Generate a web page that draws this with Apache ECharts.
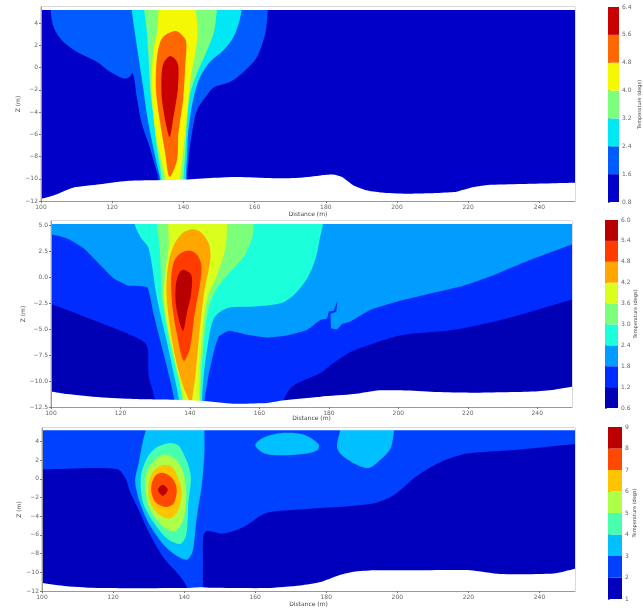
<!DOCTYPE html>
<html><head><meta charset="utf-8">
<style>html,body{margin:0;padding:0;background:#fff}#c{width:643px;height:608px;filter:blur(0.45px)}</style>
<script src="https://cdn.jsdelivr.net/npm/echarts@6/dist/echarts.min.js"></script>
</head><body><div id="c"></div>
<script>
const xTicks=[100,120,140,160,180,200,220,240];
const zTicks1=[-12,-10,-8,-6,-4,-2,0,2,4];
const zTicks2=[-12.5,-10,-7.5,-5,-2.5,0,2.5,5];
const zTicks3=[-12,-10,-8,-6,-4,-2,0,2,4];
const levels1=[0.8,1.6,2.4,3.2,4.0,4.8,5.6,6.4];
const levels2=[0.6,1.2,1.8,2.4,3.0,3.6,4.2,4.8,5.4,6.0];
const levels3=[1,2,3,4,5,6,7,8,9];
const colors1=['#0000c8','#005cff','#00e8f4','#7cff7a','#f4f802','#ff6800','#c80000'];
const colors2=['#0000b4','#002cff','#009cff','#1cffdb','#7cff7a','#dbff1c','#ffa700','#ff3b00','#b80000'];
const colors3=['#0000bc','#0040ff','#00c0ff','#48ffae','#aeff48','#ffc400','#ff4800','#bc0000'];

// Seabed profiles (distance, z)
const seabed1=[[98,-11.85],[100,-11.8],[103.5,-11.5],[109,-10.8],[116.6,-10.5],[124,-10.2],[139,-10.1],[154,-9.85],[166,-9.96],[173,-9.9],[178.5,-9.7],[182.3,-9.63],[184.6,-9.85],[187.8,-10.6],[191.7,-11.05],[196.3,-11.25],[203.8,-11.35],[216,-11.2],[220.7,-10.8],[225.4,-10.56],[234.8,-10.47],[250,-10.35],[252,-10.35]];
const seabed2=[[98,-10.95],[100,-11],[104.6,-11.25],[114.2,-11.57],[123.8,-11.73],[135.4,-11.8],[143,-11.9],[152.6,-12.18],[162.2,-12.12],[167,-11.86],[177.6,-11.5],[187.2,-11.25],[193.9,-10.9],[202.6,-10.9],[211.2,-11.06],[220.8,-11.12],[239,-11],[244.8,-10.83],[250.3,-10.54],[252,-10.5]];
const seabed3=[[98,-11.1],[100,-11.15],[106.9,-11.49],[116.3,-11.69],[139.8,-11.69],[144.5,-11.59],[148.3,-11.66],[163.3,-11.69],[172.7,-11.42],[178.3,-11.05],[183,-10.39],[187.7,-9.95],[193.3,-9.78],[206.5,-9.78],[220.5,-9.78],[229,-10.19],[244,-10.12],[250.1,-9.6],[252,-9.5]];
const dataTop1=5.17, dataTop2=5.17, dataTop3=5.2;

// Panel 1 filled contours (distance, z), lower bound of band
const a1_16=[[102.7,6],[102.7,5.17],[103.5,3.67],[105.8,2.47],[110,1.42],[115.7,.52],[119.4,-.38],[123.2,-.98],[124.6,-.9],[125.8,-.53],[126.9,-2.64],[128.3,-5.04],[130.2,-6.84],[132.1,-8.94],[133,-10.08],[133,-13],[141,-13],[141,-10.08],[141.4,-8.34],[142.4,-5.94],[143.8,-3.84],[146.6,-2.49],[148.5,-1.8],[153.2,-1.29],[156.9,-.38],[160.7,.97],[163,3.07],[163.7,5.17],[163.7,6]];
const a1_24=[[125.5,6],[125.5,5.17],[126.4,3.07],[127.8,.07],[128.8,-2.04],[129.7,-4.14],[131.1,-6.54],[132.7,-8.94],[133.5,-10.08],[133.5,-13],[140.7,-13],[140.7,-10.08],[141,-8.04],[141.4,-5.64],[142.9,-2.64],[144.7,-.83],[147.5,.52],[151.3,1.57],[154.1,2.77],[156,4.57],[156,6]];
const a1_32=[[129,6],[129,5.17],[129.7,3.37],[130.2,.97],[130.7,-2.04],[131.6,-4.44],[132.5,-7.14],[133.9,-10.08],[133.9,-13],[140,-13],[140,-10.08],[140.5,-7.74],[141,-5.04],[141.9,-2.34],[143.8,-.53],[146.1,1.12],[148.5,3.07],[149.4,5.17],[149.4,6]];
const a1_40=[[133,6],[133,5.17],[132.7,3.37],[131.6,1.57],[131.1,-.5],[131.2,-2.94],[132.2,-5.94],[133.3,-7.74],[134.9,-10.08],[134.9,-13],[139.1,-13],[139.1,-10.08],[139.6,-8.34],[140.5,-5.94],[141.4,-2.94],[142.1,-.83],[143.3,1.27],[144,3.07],[143.5,5.17],[143.5,6]];
const a1_48=[[137.9,3.28],[134.9,2.92],[133.5,2.32],[132.5,.67],[132.3,-2.04],[133.5,-5.04],[134.9,-7.74],[136.1,-9.84],[138.2,-8.34],[138.6,-5.94],[139.9,-2.94],[140.5,.07],[140.8,2.32],[139.6,2.92]];
const a1_56=[[136.3,1.03],[134.4,.37],[133.8,-1.14],[134.1,-3.24],[136.1,-6.24],[137.2,-4.44],[138.4,-2.04],[138.6,.07],[137.9,.67]];

// Panel 2 filled contours
const a2_12=[[98,-2.5],[100,-2.55],[113.3,-4.25],[125.3,-5.92],[127.7,-6.66],[128.1,-9.39],[129.8,-11.7],[129.8,-13],[167,-13],[167,-11.86],[169.5,-10.51],[177.6,-9.23],[180,-8.58],[186.2,-7.2],[193,-6.34],[201.6,-5.53],[216,-5.05],[231.4,-3.93],[250.3,-2.1],[252,-2],[252,6],[98,6]];
const a2_18=[[98,4.2],[100,4.17],[104.6,3.78],[109.4,2.82],[114.2,1.21],[118,-.07],[122.4,-.81],[127.7,-.94],[129.6,-3.6],[132.5,-7.46],[134.4,-10.03],[135.5,-11.8],[135.5,-13],[144.2,-13],[144.2,-11.8],[145.4,-9.39],[146.9,-7.14],[148.3,-5.69],[151.2,-5.15],[156.5,-5.53],[162.2,-5.79],[168,-5.6],[173.8,-5.05],[177.6,-4.09],[179.5,-3.93],[180,-3.29],[181.4,-3.19],[182.4,-2.26],[182.1,-3.29],[180.5,-3.54],[180.7,-4.89],[182.4,-4.99],[183.8,-4.5],[186.2,-4.25],[192,-3.12],[199.7,-2.32],[208.3,-1.62],[217.9,-.88],[227.6,.25],[239.1,1.85],[250.3,3.23],[252,3.4],[252,6],[98,6]];
const a2_24=[[124.1,6],[124.1,5.17],[125.7,3.94],[128.1,2.82],[130.5,-2],[132.9,-5.53],[135.4,-9.39],[136.8,-11.8],[136.8,-13],[143.5,-13],[143.5,-11.8],[144,-9.39],[145,-6.82],[146.9,-3.93],[150.7,-2.96],[158.4,-2.8],[166.1,-2.48],[169.9,-1.68],[173.8,-.07],[176.2,1.85],[177.6,4.1],[178.3,5.17],[178.3,6]];
const a2_30=[[130.5,6],[130.5,5.17],[131.3,2.82],[132,-2],[133.9,-5.85],[136.8,-10.03],[137.8,-11.8],[137.8,-13],[143,-13],[143,-11.8],[143.3,-9.39],[144,-6.18],[145.4,-2.96],[147.8,-1.04],[151.7,.57],[155.5,2.01],[157.9,3.78],[158.4,5.17],[158.4,6]];
const a2_36=[[133.7,6],[133.7,5.17],[133.9,3.14],[132.9,.57],[132.5,-2.32],[134.4,-6.18],[137.3,-10.35],[138,-11.8],[138,-13],[142.7,-13],[142.7,-11.8],[142.8,-9.39],[143.5,-5.85],[145,-2],[147.8,.25],[150.2,2.82],[150.7,5.17],[150.7,6]];
const a2_42=[[140.6,4.65],[137.8,4.26],[135.4,3.14],[133.9,1.53],[133.2,-1.04],[133.9,-3.93],[135.8,-7.78],[138.2,-10.67],[139.7,-11.9],[139.7,-13],[140.6,-13],[140.6,-11.9],[141.6,-9.39],[142.6,-5.85],[144,-1.68],[145.9,1.85],[145.4,3.3],[143,4.42]];
const a2_48=[[140.2,2.59],[137.3,2.33],[135.4,1.53],[134.6,-.07],[134.9,-2.64],[136.3,-5.53],[138.2,-8.04],[140,-6.82],[141.3,-3.6],[143,-.39],[143.3,1.21],[142.1,2.17]];
const a2_54=[[137.8,.73],[136.3,-.07],[135.8,-1.68],[136.3,-3.29],[138,-5.15],[139.2,-3.29],[140.3,-1.68],[140.4,.25]];

// Panel 3 filled contours
const a3_2=[[98,1],[100,1],[121,1.06],[123.4,.14],[124.8,-1.4],[127.6,-3.62],[130,-5.68],[134.2,-8.41],[138.9,-10.46],[140.8,-11.66],[140.8,-13],[145.3,-13],[145.3,-11.6],[145.3,-8.75],[145.9,-5.68],[151.1,-5.85],[156.7,-5.16],[162.3,-3.79],[166.1,-3.45],[172.7,-3.28],[178.3,-3.11],[187.7,-2.87],[194.3,-2.53],[199,-1.74],[205.5,.31],[212.1,1.78],[219.6,2.7],[234.6,3.15],[250.1,3.73],[252,3.8],[252,6],[98,6]];
const a3_3=[[129.2,6],[129.2,5.2],[128.5,4.24],[127.1,1.5],[126.2,-.2],[127.6,-2.6],[130.4,-5],[134.2,-7.04],[137.9,-8.24],[140.8,-8.65],[142.4,-7.73],[143.6,-3.97],[145,-.55],[145.7,2.87],[145.7,5.2],[145.7,6]];
const a3_3b=[[160,3.62],[162.3,4.41],[168,4.92],[173.6,4.75],[177.8,3.73],[177.4,3.04],[172.7,2.63],[166.1,2.53],[162.3,2.77]];
const a3_3c=[[183.9,6],[183.9,5.2],[183,3.56],[183.9,2.7],[187.7,1.68],[191.9,1.16],[194.7,1.85],[198,3.2],[199.1,5.2],[199.1,6]];
const a3_4=[[136.1,3.83],[132.3,3.38],[129.5,2.19],[127.8,.14],[128.5,-2.6],[131.4,-4.65],[135.1,-6.36],[138.9,-6.97],[140.6,-6.02],[141.2,-2.6],[141.9,.14],[140.8,1.85],[138.4,3.56]];
const a3_5=[[134.2,2.6],[131.8,2.02],[129.5,.82],[129,-.89],[130.4,-3.28],[134.2,-5.16],[137.5,-5.6],[139.8,-4.3],[140.6,-1.57],[139.8,.65],[137.5,2.12]];
const a3_6=[[134.2,1.5],[131.4,.82],[130,-.55],[130.4,-2.43],[132.8,-3.8],[136,-4.24],[138.4,-3.28],[139.3,-1.23],[137.9,.48],[136.5,1.33]];
const a3_7=[[133.9,.65],[131.8,.31],[130.7,-1.06],[131.8,-2.43],[134.6,-3.01],[137,-2.67],[137.9,-1.06],[136.5,.14]];
const a3_8=[[134,-.62],[132.6,-1.16],[134,-1.81],[135.4,-1.16]];

const base=[[98,-14],[252,-14],[252,7],[98,7]];
const panels=[
 {l:41,t:7,w:534,h:194,zmax:5.44,zmin:-12,zt:zTicks1,dec:0,top:dataTop1,bed:seabed1,lv:levels1,col:colors1,
  polys:[[base,0],[a1_16,1],[a1_24,2],[a1_32,3],[a1_40,4],[a1_48,5],[a1_56,6]],
  cl:608,ct:7,cw:14,ch:195,cd:1,zg:20,xg:10,tg:18},
 {l:51,t:221,w:521,h:186,zmax:5.45,zmin:-12.5,zt:zTicks2,dec:1,top:dataTop2,bed:seabed2,lv:levels2,col:colors2,
  polys:[[base,0],[a2_12,1],[a2_18,2],[a2_24,3],[a2_30,4],[a2_36,5],[a2_42,6],[a2_48,7],[a2_54,8]],
  cl:605,ct:220,cw:13,ch:188,cd:1,zg:25,xg:8,tg:15},
 {l:42,t:428,w:533,h:170,zmax:5.44,zmin:-12,zt:zTicks3,dec:0,top:dataTop3,bed:seabed3,lv:levels3,col:colors3,
  polys:[[base,0],[a3_2,1],[a3_3,2],[a3_3b,2],[a3_3c,2],[a3_4,3],[a3_5,4],[a3_6,5],[a3_7,6],[a3_8,7]],
  cl:608,ct:427,cw:14,ch:172,cd:0,zg:20,xg:10,tg:10}
];
const grey='#666', F='DejaVu Sans', fs=6;
const minus=s=>String(s).replace('-','\u2212');
const grid=[],xAxis=[],yAxis=[],series=[];
function poly(gi,pts,fill,smooth){
  series.push({type:'custom',coordinateSystem:'cartesian2d',xAxisIndex:gi,yAxisIndex:gi,clip:true,silent:true,z:2,
    data:[0],renderItem:(p,api)=>({type:'polygon',shape:{points:pts.map(q=>api.coord(q)),smooth:smooth},style:{fill:fill,stroke:null}})});
}
panels.forEach((P,i)=>{
  const gi=grid.length;
  grid.push({left:P.l,top:P.t,width:P.w,height:P.h,show:true,borderColor:'#b5b5b5',borderWidth:1,backgroundColor:'#fff'});
  xAxis.push({type:'value',gridIndex:gi,min:100,max:250,name:'Distance (m)',nameLocation:'middle',nameGap:P.xg,nameMoveOverlap:false,z:10,
    nameTextStyle:{fontSize:fs,color:'#444',fontFamily:F},
    axisLine:{show:true,onZero:false,lineStyle:{color:'#999',width:1}},axisTick:{show:true,length:2,lineStyle:{color:'#777'},customValues:xTicks},
    axisLabel:{fontSize:fs,color:grey,fontFamily:F,margin:3,customValues:xTicks,formatter:v=>String(v)},splitLine:{show:false}});
  yAxis.push({type:'value',gridIndex:gi,min:P.zmin,max:P.zmax,name:'Z (m)',nameLocation:'middle',nameGap:P.zg,nameMoveOverlap:false,nameRotate:90,z:10,
    nameTextStyle:{fontSize:fs,color:'#444',fontFamily:F},
    axisLine:{show:true,onZero:false,lineStyle:{color:'#999',width:1}},axisTick:{show:true,length:2,lineStyle:{color:'#777'},customValues:P.zt},
    axisLabel:{fontSize:fs,color:grey,fontFamily:F,margin:3,customValues:P.zt,formatter:v=>minus(v.toFixed(P.dec))},splitLine:{show:false}});
  P.polys.forEach(([pts,k])=>poly(gi,pts,P.col[k],pts===a2_18?0.12:0.3));
  poly(gi,[[98,P.top],[252,P.top],[252,8],[98,8]],'#fff',0);
  poly(gi,[...P.bed,[252,-15],[98,-15]],'#fff',0.2);
});
panels.forEach((P,i)=>{
  const gi=grid.length, lv=P.lv;
  grid.push({left:P.cl,top:P.ct,width:P.cw,height:P.ch,show:false});
  xAxis.push({type:'value',gridIndex:gi,min:0,max:1,show:false});
  yAxis.push({type:'value',gridIndex:gi,position:'right',min:lv[0],max:lv[lv.length-1],name:'Temperature (degs)',nameLocation:'middle',nameRotate:90,nameGap:P.tg,nameMoveOverlap:false,
    nameTextStyle:{fontSize:5,color:'#444',fontFamily:F},
    axisLine:{show:false},axisTick:{show:true,length:2,lineStyle:{color:'#777'},customValues:lv},
    axisLabel:{fontSize:fs,color:grey,fontFamily:F,margin:3,customValues:lv,formatter:v=>v.toFixed(P.cd)},splitLine:{show:false}});
  series.push({type:'custom',coordinateSystem:'cartesian2d',xAxisIndex:gi,yAxisIndex:gi,silent:true,
    data:lv.slice(0,-1).map((v,k)=>[v,lv[k+1],k]),
    renderItem:(p,api)=>{const a=api.coord([0,api.value(0)]),b=api.coord([1,api.value(1)]);
      return {type:'rect',shape:{x:a[0],y:b[1],width:b[0]-a[0],height:a[1]-b[1]},style:{fill:P.col[api.value(2)]}};}});
});
const chart=echarts.init(document.getElementById('c'),null,{renderer:'canvas'});
chart.setOption({animation:false,backgroundColor:'#fff',tooltip:{show:false},grid,xAxis,yAxis,series});
</script></body></html>
